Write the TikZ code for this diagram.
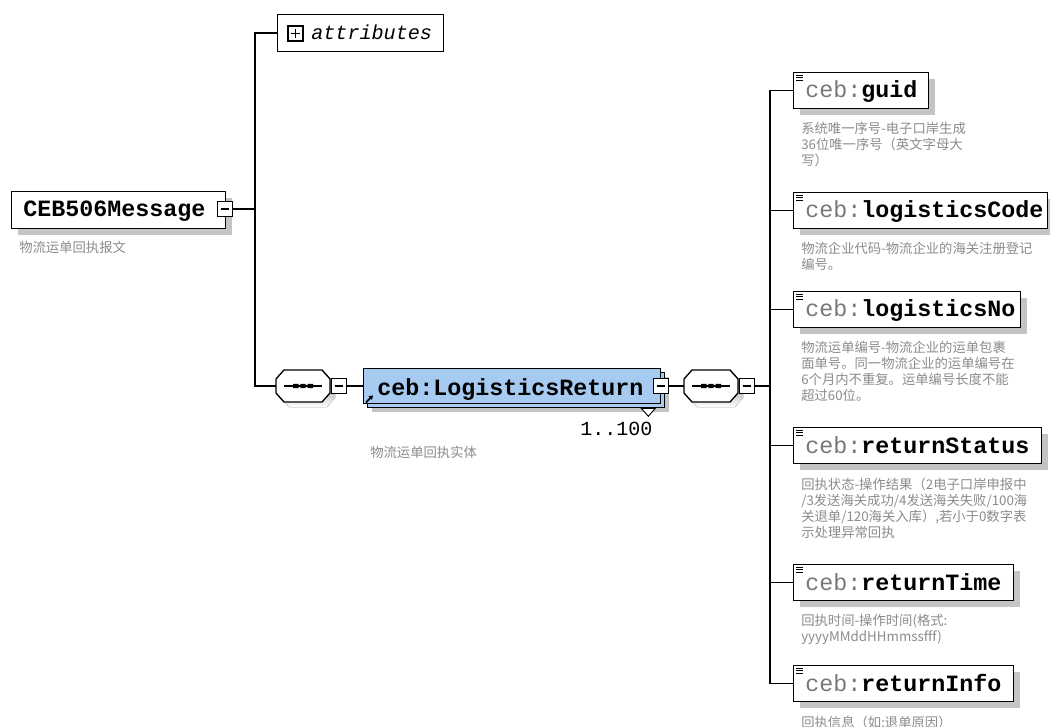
\documentclass[tikz,border=0pt]{standalone}
\usepackage{fontspec}
\setmainfont{Liberation Mono}
\newfontfamily\mono{Liberation Mono}
\newfontfamily\cjk{Noto Sans CJK SC}
\usetikzlibrary{calc,arrows.meta,shadows}
\definecolor{boxblue}{RGB}{166,202,240}
\definecolor{shade}{RGB}{196,196,196}
\definecolor{desctext}{RGB}{140,140,140}
\definecolor{pref}{RGB}{120,120,120}
\newcommand\pw[1]{#1*0.75pt}
\tikzset{
  conn/.style={draw=black, line width=1pt},
  box/.style={draw=black, line width=1pt, fill=white, inner sep=0, anchor=north west,
    drop shadow={shadow xshift=4.5pt, shadow yshift=-4.5pt, fill=shade, opacity=1}},
  plainbox/.style={draw=black, line width=1pt, fill=white, inner sep=0, anchor=north west},
  bluebox/.style={draw=black, line width=1pt, fill=boxblue, inner sep=0, anchor=north west,
    drop shadow={shadow xshift=6pt, shadow yshift=-6pt, fill=shade, opacity=1},
    copy shadow={shadow xshift=3pt, shadow yshift=-3pt}},
  namefont/.style={font=\mono\fontsize{17.5}{20}\selectfont, inner sep=0, anchor=base west},
  desc/.style={font=\cjk\fontsize{10}{12}\selectfont, text=desctext, align=left, inner sep=0, anchor=north west},
  minusbox/.style={draw=black, fill=white, line width=0.8pt, minimum size=\pw{15}, inner sep=0,
    path picture={\draw[line width=0.8pt] ([xshift=-3.2pt]path picture bounding box.center) -- ([xshift=3.2pt]path picture bounding box.center);}},
  plusbox/.style={draw=black, fill=white, line width=0.8pt, minimum size=\pw{15}, inner sep=0,
    path picture={\draw[line width=0.8pt] ([xshift=-3.6pt]path picture bounding box.center) -- ([xshift=3.6pt]path picture bounding box.center);
      \draw[line width=0.8pt] ([yshift=-3.6pt]path picture bounding box.center) -- ([yshift=3.6pt]path picture bounding box.center);}},
  seqframe/.style={minimum width=\pw{54}, minimum height=\pw{32}, inner sep=0},
}
% sequence compositor symbol drawn round a named frame node
\newcommand\seqsym[1]{%
  \fill[shade, shift={($(#1.center)+(5,5)$)}] (-19,-16) -- (19,-16) -- (27,-7) -- (27,7) -- (19,16) -- (-19,16) -- (-27,7) -- (-27,-7) -- cycle;
  \draw[line width=1pt, fill=white, shift={(#1.center)}] (-19,-16) -- (19,-16) -- (27,-7) -- (27,7) -- (19,16) -- (-19,16) -- (-27,7) -- (-27,-7) -- cycle;
  \draw[line width=0.9pt, shift={(#1.center)}] (-19,0) -- (19,0);
  \fill[shift={(#1.center)}] (-10,-2.2) rectangle (-4.5,2.2) (-2.7,-2.2) rectangle (2.7,2.2) (4.5,-2.2) rectangle (10,2.2);
}
% leaf element: name, top y, width, element name, description
\newcommand\leafbox[5]{%
  \node[box, minimum width=\pw{#3}, minimum height=\pw{36}] (#1) at (793,#2) {};
  \draw[line width=0.6pt] ($(#1.north west)+(3,3)$) -- ++(7,0) ($(#1.north west)+(3,5.5)$) -- ++(7,0) ($(#1.north west)+(3,8)$) -- ++(7,0);
  \node[namefont] (#1-t) at ($(#1.north west)+(12,26)$) {{\color{pref}ceb:}\textbf{#4}};
  \node[desc] (#1-d) at ($(#1.south west)+(8,13)$) {#5};
}
\begin{document}
\begin{tikzpicture}[x=0.75pt,y=-0.75pt]
\useasboundingbox[fill=white] (0,0) rectangle (1050,727);

% root element
\node[box, minimum width=\pw{214}, minimum height=\pw{37}] (msg) at (11,191) {};
\node[namefont] (msg-t) at (23,217) {\textbf{CEB506Message}};
\node[minusbox] (msgm) at (225,209) {};
\node[desc] (msg-d) at (19,241) {物流运单回执报文};

% attributes
\node[plainbox, minimum width=\pw{166}, minimum height=\pw{37}] (attr) at (277,14) {};
\node[plusbox] (attrp) at (295.5,33.5) {};
\node[font=\mono\itshape\fontsize{15.1}{18}\selectfont, inner sep=0, anchor=base west] (attr-t) at (311,40) {attributes};

% left sequence
\node[seqframe] (seq1) at (303,386) {};
\seqsym{seq1}
\node[minusbox] (seq1m) at (339,386) {};

% LogisticsReturn
\node[bluebox, minimum width=\pw{297}, minimum height=\pw{35}] (lr) at (363,368) {};
\node[namefont] (lr-t) at (377,395) {\textbf{ceb:LogisticsReturn}};
\draw[line width=1.3pt, -{Triangle[length=3pt,width=3.6pt]}] ($(lr.south west)+(3,-2)$) -- ++(7,-7);
\draw[line width=0.7pt, fill=white] ($(lr.south east)+(-20,4)$) -- ++(14,0) -- ++(-7,8) -- cycle;
\node[minusbox] (lrm) at (661,386) {};
\node[font=\mono\fontsize{15}{18}\selectfont, inner sep=0, anchor=base west] (mult) at (580,435) {1..100};
\node[desc] (lr-d) at (370,446) {物流运单回执实体};

% right sequence
\node[seqframe] (seq2) at (711,386) {};
\seqsym{seq2}
\node[minusbox] (seq2m) at (747,386) {};

% leaves
\leafbox{guid}{72}{135}{guid}{系统唯一序号-电子口岸生成\\36位唯一序号（英文字母大\\写）}
\leafbox{code}{192}{254}{logisticsCode}{物流企业代码-物流企业的海关注册登记\\编号。}
\leafbox{lno}{291}{227}{logisticsNo}{物流运单编号-物流企业的运单包裹\\面单号。同一物流企业的运单编号在\\6个月内不重复。运单编号长度不能\\超过60位。}
\leafbox{status}{427}{248}{returnStatus}{回执状态-操作结果（2电子口岸申报中\\/3发送海关成功/4发送海关失败/100海\\关退单/120海关入库）,若小于0数字表\\示处理异常回执}
\leafbox{rtime}{564}{220}{returnTime}{回执时间-操作时间(格式:\\yyyyMMddHHmmssfff)}
\leafbox{rinfo}{665}{220}{returnInfo}{回执信息（如:退单原因）}

% connectors
\coordinate (lt) at (255,0);
\coordinate (rt) at (770,0);
\draw[conn] (msgm.east) -- (msgm.east -| lt);
\draw[conn] (attr.west) -- (attr.west -| lt) -- (seq1.west -| lt) -- (seq1.west);
\draw[conn] (seq1m.east) -- (lr.west |- seq1m.east);
\draw[conn] (lrm.east) -- (seq2.west);
\draw[conn] (seq2m.east) -- (seq2m.east -| rt);
\draw[conn] (guid.west) -- (guid.west -| rt) -- (rinfo.west -| rt) -- (rinfo.west);
\draw[conn] (code.west) -- (code.west -| rt);
\draw[conn] (lno.west) -- (lno.west -| rt);
\draw[conn] (status.west) -- (status.west -| rt);
\draw[conn] (rtime.west) -- (rtime.west -| rt);
\end{tikzpicture}
\end{document}
